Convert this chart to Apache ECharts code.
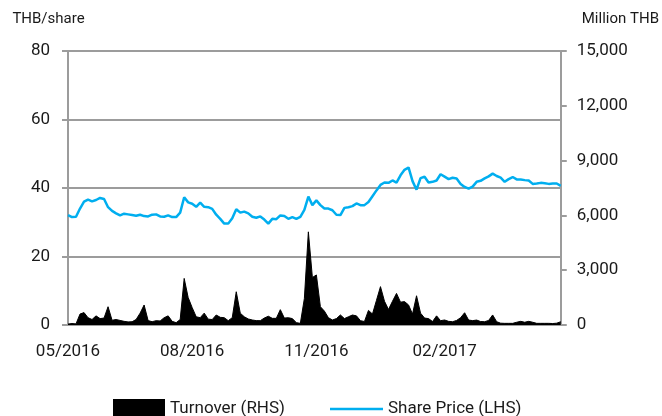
<!DOCTYPE html>
<html>
<head>
<meta charset="utf-8">
<script src="https://cdn.jsdelivr.net/npm/echarts@6/dist/echarts.min.js"></script>
<style>
  html, body { margin: 0; padding: 0; background: #fff; }
  #chart { width: 662px; height: 416px; }
</style>
</head>
<body>
<div id="chart"></div>
<script>
// Share price (THB/share), sampled along the period May 2016 - Apr 2017
const sharePrice = [
  32.1, 31.5, 31.6, 34.0, 36.0, 36.6, 36.1, 36.5, 37.1, 36.8,
  34.4, 33.3, 32.6, 32.0, 32.5, 32.3, 32.1, 31.9, 32.2, 31.8,
  31.7, 32.2, 32.3, 31.7, 31.6, 32.0, 31.5, 31.5, 32.8, 37.3,
  35.8, 35.4, 34.5, 35.7, 34.5, 34.4, 33.9, 32.2, 31.0, 29.6,
  29.6, 31.2, 33.8, 32.8, 33.1, 32.6, 31.6, 31.3, 31.7, 30.8,
  29.6, 31.0, 30.9, 32.0, 31.8, 31.0, 31.5, 31.0, 31.6, 33.6,
  37.5, 35.0, 36.4, 35.0, 34.0, 34.0, 33.5, 32.2, 32.1, 34.2,
  34.4, 34.7, 35.5, 35.0, 35.0, 35.9, 37.6, 39.3, 40.9, 41.6,
  41.5, 42.2, 41.6, 43.7, 45.3, 46.0, 42.0, 39.5, 42.9, 43.3,
  41.6, 41.8, 42.2, 44.0, 43.3, 42.6, 43.0, 42.8, 41.2, 40.3,
  39.8, 40.4, 41.8, 42.1, 42.8, 43.4, 44.2, 43.5, 43.0, 41.8,
  42.6, 43.2, 42.5, 42.5, 42.3, 42.2, 41.2, 41.3, 41.5, 41.4,
  41.2, 41.3, 41.3, 40.6
];
// Turnover (Million THB)
const turnover = [
  50, 80, 60, 600, 680, 400, 300, 500, 350, 380,
  1000, 260, 300, 250, 200, 170, 180, 300, 650, 1095,
  240, 180, 237, 220, 400, 500, 200, 128, 300, 2550,
  1500, 950, 450, 400, 650, 320, 300, 547, 420, 400,
  237, 400, 1820, 650, 450, 330, 274, 240, 237, 380,
  480, 365, 365, 840, 380, 400, 350, 130, 90, 1450,
  5100, 2600, 2740, 1000, 760, 400, 274, 350, 550, 350,
  450, 547, 500, 237, 190, 800, 600, 1350, 2100, 1300,
  850, 1300, 1730, 1250, 1280, 1100, 600, 1600, 650, 380,
  350, 190, 500, 237, 274, 200, 180, 250, 400, 670,
  270, 240, 270, 190, 180, 250, 550, 180, 100, 90,
  90, 90, 150, 200, 150, 200, 150, 90, 90, 90,
  90, 80, 100, 180
];
// x-axis tick labels and the sample index each one sits at
const tickLabels = ['05/2016', '08/2016', '11/2016', '02/2017'];
const tickIndex = [0, 31, 62, 94];

const categories = sharePrice.map((_, i) => {
  const k = tickIndex.indexOf(i);
  return k >= 0 ? tickLabels[k] : String(i);
});

const FONT = 'Roboto';
const TXT = '#1a1a1a';
const GRID = '#9c9c9c';

const chart = echarts.init(document.getElementById('chart'), null, { renderer: 'canvas' });
chart.setOption({
  animation: false,
  backgroundColor: '#ffffff',
  textStyle: { fontFamily: FONT, color: TXT },
  grid: { left: 68, right: 101, top: 51, bottom: 91, containLabel: false },
  legend: [
    {
      left: 113,
      top: 399,
      padding: 0,
      itemWidth: 52,
      itemHeight: 20,
      textStyle: { fontFamily: FONT, fontSize: 17, color: TXT, lineHeight: 20 },
      data: [{ name: 'Turnover (RHS)', icon: 'rect' }]
    },
    {
      left: 330,
      top: 399,
      padding: 0,
      itemWidth: 53,
      itemHeight: 2.5,
      textStyle: { fontFamily: FONT, fontSize: 17, color: TXT, lineHeight: 20 },
      data: [{ name: 'Share Price (LHS)', icon: 'rect' }]
    }
  ],
  xAxis: {
    type: 'category',
    data: categories,
    boundaryGap: false,
    axisLine: { show: true, lineStyle: { color: GRID, width: 2 } },
    axisTick: { show: false },
    axisLabel: {
      interval: (i) => tickIndex.indexOf(i) >= 0,
      margin: 18,
      fontFamily: FONT,
      fontSize: 17,
      color: TXT
    },
    splitLine: { show: false }
  },
  yAxis: [
    {
      type: 'value',
      min: 0, max: 80, interval: 20,
      position: 'left',
      name: 'THB/share',
      nameLocation: 'end',
      nameGap: 24,
      nameTextStyle: { fontFamily: FONT, fontSize: 15, color: TXT, align: 'center', padding: [0, 39, 0, 0] },
      axisLine: { show: true, lineStyle: { color: GRID, width: 2 } },
      axisTick: { show: true, length: 6, lineStyle: { color: GRID, width: 2 } },
      axisLabel: { margin: 18, fontFamily: FONT, fontSize: 17, color: TXT },
      splitLine: { show: true, lineStyle: { color: GRID, width: 2 } }
    },
    {
      type: 'value',
      min: 0, max: 15000, interval: 3000,
      position: 'right',
      name: 'Million THB',
      nameLocation: 'end',
      nameGap: 24,
      nameTextStyle: { fontFamily: FONT, fontSize: 15, color: TXT, align: 'left', padding: [0, 0, 0, 21] },
      axisLine: { show: true, lineStyle: { color: GRID, width: 2 } },
      axisTick: { show: true, length: 6, lineStyle: { color: GRID, width: 2 } },
      axisLabel: {
        margin: 16, fontFamily: FONT, fontSize: 17, color: TXT,
        formatter: (v) => v.toLocaleString('en-US')
      },
      splitLine: { show: false }
    }
  ],
  series: [
    {
      name: 'Turnover (RHS)',
      type: 'line',
      yAxisIndex: 1,
      data: turnover,
      symbol: 'none',
      itemStyle: { color: '#000000' },
      lineStyle: { color: '#000000', width: 1 },
      areaStyle: { color: '#000000', opacity: 1 },
      z: 2
    },
    {
      name: 'Share Price (LHS)',
      type: 'line',
      yAxisIndex: 0,
      data: sharePrice,
      symbol: 'none',
      itemStyle: { color: '#00aeef' },
      lineStyle: { color: '#00aeef', width: 2.5 },
      z: 3
    }
  ]
});
</script>
</body>
</html>
